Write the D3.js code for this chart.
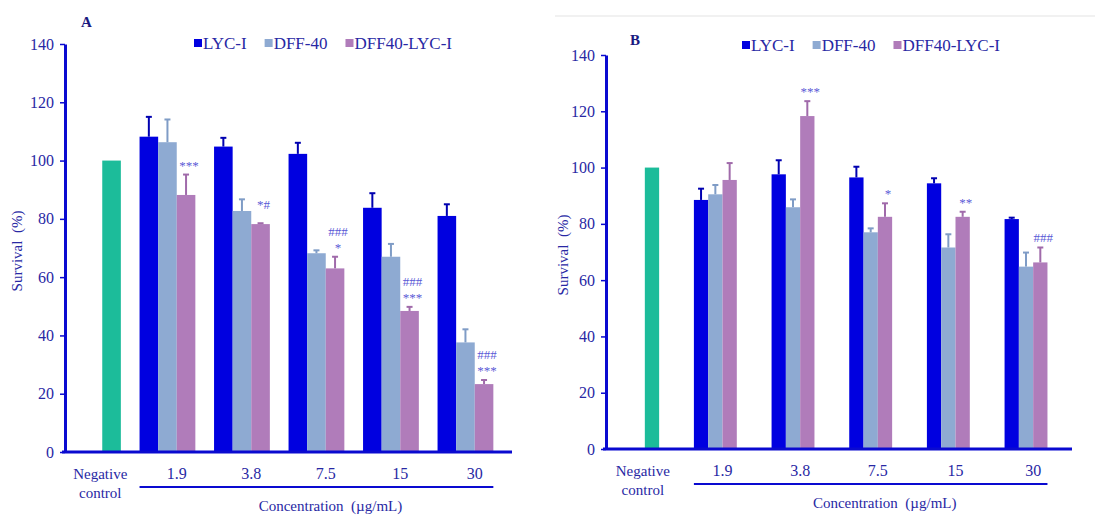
<!DOCTYPE html>
<html>
<head>
  <meta charset="utf-8">
  <script src="https://d3js.org/d3.v7.min.js"></script>
</head>
<style>
  body { margin: 0; background: #fff; }
  text { font-family: "Liberation Serif", "Times New Roman", serif; }
</style>
<body>
  <svg id="chart"></svg>
</body>
<script>
  var w = 1095;
  var h = 516;

  // data
  var categories = ["Negative control", "1.9", "3.8", "7.5", "15", "30"];
  var concentrations = ["1.9", "3.8", "7.5", "15", "30"];
  var seriesNames = ["LYC-I", "DFF-40", "DFF40-LYC-I"];
  var yTicks = [0, 20, 40, 60, 80, 100, 120, 140];

  var controlA = 100;
  var lycA = [108.2, 104.8, 102.3, 83.8, 81.0];
  var lycErrA = [6.8, 3.0, 3.8, 5.0, 4.0];
  var dffA = [106.3, 82.7, 68.2, 67.0, 37.6];
  var dffErrA = [7.8, 4.0, 1.0, 4.4, 4.5];
  var comboA = [88.2, 78.2, 63.0, 48.4, 23.3];
  var comboErrA = [7.0, 0.3, 4.0, 1.4, 1.4];
  var sigA = [["***"], ["*#"], ["###", "*"], ["###", "***"], ["###", "***"]];

  var controlB = 100;
  var lycB = [88.5, 97.6, 96.5, 94.4, 81.7];
  var lycErrB = [4.0, 5.0, 3.8, 1.8, 0.5];
  var dffB = [90.5, 85.9, 77.0, 71.6, 64.8];
  var dffErrB = [3.3, 2.8, 1.4, 4.7, 5.0];
  var comboB = [95.6, 118.3, 82.5, 82.5, 66.3];
  var comboErrB = [6.0, 5.3, 4.8, 1.8, 5.3];
  var sigB = [[], ["***"], ["*"], ["**"], ["###"]];

  var colors = {"LYC-I": "#0000e0", "DFF-40": "#8eaad2", "DFF40-LYC-I": "#b07cba"};
  var errColors = {"LYC-I": "#0000b0", "DFF-40": "#7f9cc6", "DFF40-LYC-I": "#a06aaa"};
  var controlColor = "#1cbc9a";
  var axisColor = "#0a0ad0";
  var textColor = "#2828a4";
  var sigColor = "#5a5ad6";

  var svg = d3.select("svg#chart")
      .attr("width", w)
      .attr("height", h);

  // faint rule over panel B like in the scan
  svg.append("line")
      .attr("x1", 555).attr("x2", w).attr("y1", 16).attr("y2", 16)
      .style("stroke", "#ececec").style("stroke-width", 1.5);

  function drawPanel(p) {
    var g = svg.append("g");

    var y = d3.scaleLinear().domain([0, 140]).range([p.yBottom, p.yTop]);
    var x0 = d3.scaleBand().domain(categories).range(p.xRange).paddingInner(0).paddingOuter(0);
    var x1 = d3.scaleBand().domain(seriesNames.concat(["_"])).range([-2 * p.bw, 2 * p.bw]);
    var cx = function(c){ return x0(c) + x0.bandwidth()/2; };

    var rows = [];
    concentrations.forEach(function(c, i){
      rows.push({cat: c, s: "LYC-I", v: p.lyc[i], e: p.lycErr[i]});
      rows.push({cat: c, s: "DFF-40", v: p.dff[i], e: p.dffErr[i]});
      rows.push({cat: c, s: "DFF40-LYC-I", v: p.combo[i], e: p.comboErr[i]});
    });

    // control bar
    g.append("rect")
        .attr("x", cx(categories[0]) + x1("DFF40-LYC-I"))
        .attr("y", y(p.control))
        .attr("width", x1.bandwidth())
        .attr("height", y(0) - y(p.control))
        .style("fill", controlColor);

    g.selectAll("rect.bar")
        .data(rows)
        .enter().append("rect")
        .attr("class", "bar")
        .attr("x", function(d){ return cx(d.cat) + x1(d.s); })
        .attr("y", function(d){ return y(d.v); })
        .attr("width", x1.bandwidth())
        .attr("height", function(d){ return y(0) - y(d.v); })
        .style("fill", function(d){ return colors[d.s]; });

    // error bars (upper half only)
    var eb = g.selectAll("g.err")
        .data(rows)
        .enter().append("g")
        .attr("class", "err")
        .style("stroke", function(d){ return errColors[d.s]; })
        .style("stroke-width", 2);
    eb.append("line")
        .attr("x1", function(d){ return cx(d.cat) + x1(d.s) + x1.bandwidth()/2; })
        .attr("x2", function(d){ return cx(d.cat) + x1(d.s) + x1.bandwidth()/2; })
        .attr("y1", function(d){ return y(d.v); })
        .attr("y2", function(d){ return y(d.v + d.e); });
    eb.append("line")
        .attr("x1", function(d){ return cx(d.cat) + x1(d.s) + x1.bandwidth()/2 - 3; })
        .attr("x2", function(d){ return cx(d.cat) + x1(d.s) + x1.bandwidth()/2 + 3; })
        .attr("y1", function(d){ return y(d.v + d.e); })
        .attr("y2", function(d){ return y(d.v + d.e); });

    // significance marks over the combination bar
    concentrations.forEach(function(c, i){
      var top = y(p.combo[i] + p.comboErr[i]) - 5;
      if (p.sig[i].length == 1 && p.sig[i][0].indexOf("#") > 0) top -= 9; // the "*#" sits higher
      var marks = p.sig[i].slice().reverse();
      marks.forEach(function(m, j){
        g.append("text")
            .attr("x", cx(c) + x1("DFF40-LYC-I") + x1.bandwidth()/2 + 3)
            .attr("y", top - j * 16)
            .attr("text-anchor", "middle")
            .style("font-size", "13px")
            .style("fill", sigColor)
            .text(m);
      });
    });

    // y axis
    var yAxis = d3.axisLeft(y).tickValues(yTicks).tickSize(5).tickPadding(6).tickSizeOuter(0);
    var ya = g.append("g")
        .attr("transform", "translate(" + p.xRange[0] + ",0)")
        .call(yAxis);
    ya.select(".domain").style("stroke", axisColor).style("stroke-width", 3);
    ya.selectAll(".tick line").style("stroke", axisColor).style("stroke-width", 1.5);
    ya.selectAll(".tick text")
        .style("font-family", "Liberation Serif, serif")
        .style("font-size", "16px")
        .style("fill", textColor);

    // x axis line
    g.append("line")
        .attr("x1", p.xRange[0] - 3).attr("x2", p.xAxisEnd)
        .attr("y1", y(0)).attr("y2", y(0))
        .style("stroke", axisColor).style("stroke-width", 3);

    // category labels
    g.append("text")
        .attr("x", cx(categories[0]) - 2).attr("y", y(0) + 27)
        .attr("text-anchor", "middle")
        .style("font-size", "15px").style("fill", textColor)
        .text("Negative");
    g.append("text")
        .attr("x", cx(categories[0]) - 2).attr("y", y(0) + 46)
        .attr("text-anchor", "middle")
        .style("font-size", "15px").style("fill", textColor)
        .text("control");
    g.selectAll("text.conc")
        .data(concentrations)
        .enter().append("text")
        .attr("class", "conc")
        .attr("x", function(d){ return cx(d); })
        .attr("y", y(0) + 27)
        .attr("text-anchor", "middle")
        .style("font-size", "16px").style("fill", textColor)
        .text(function(d){ return d; });

    // bracket under concentrations
    var bx1 = cx(concentrations[0]) + x1("LYC-I");
    var bx2 = cx(concentrations[concentrations.length - 1]) + x1("DFF40-LYC-I") + x1.bandwidth();
    g.append("line")
        .attr("x1", bx1).attr("x2", bx2)
        .attr("y1", y(0) + 35).attr("y2", y(0) + 35)
        .style("stroke", axisColor).style("stroke-width", 2);
    g.append("text")
        .attr("x", (bx1 + bx2)/2 + 14).attr("y", y(0) + 59)
        .attr("text-anchor", "middle")
        .style("font-size", "15px").style("fill", textColor)
        .style("white-space", "pre")
        .text("Concentration  (\u00b5g/mL)");

    // y title
    g.append("text")
        .attr("transform", "translate(" + p.yTitleX + "," + ((y(0) + y(140))/2 + 3) + ") rotate(-90)")
        .attr("text-anchor", "middle")
        .style("font-size", "15px").style("fill", textColor)
        .style("white-space", "pre")
        .text("Survival  (%)");

    // panel letter
    g.append("text")
        .attr("x", p.letterX).attr("y", p.letterY)
        .style("font-size", "15px").style("font-weight", "bold").style("fill", "#1a1a80")
        .text(p.letter);

    // legend
    var lg = g.append("g").attr("transform", "translate(" + p.legendX + "," + p.legendY + ")");
    var lx = 0;
    seriesNames.forEach(function(s){
      var item = lg.append("g").attr("transform", "translate(" + lx + ",0)");
      item.append("rect").attr("x", 0).attr("y", -10).attr("width", 8).attr("height", 8)
          .style("fill", colors[s]);
      var t = item.append("text").attr("x", 9).attr("y", 0)
          .style("font-size", "17px").style("fill", textColor)
          .text(s);
      lx += 9 + t.node().getComputedTextLength() + p.legendGap;
    });
  }

  drawPanel({
    letter: "A", letterX: 81, letterY: 27,
    yTop: 44, yBottom: 452, xRange: [65, 512], xAxisEnd: 512, bw: 18.6,
    yTitleX: 22, legendX: 194, legendY: 49, legendGap: 18,
    control: controlA, lyc: lycA, lycErr: lycErrA, dff: dffA, dffErr: dffErrA,
    combo: comboA, comboErr: comboErrA, sig: sigA
  });

  drawPanel({
    letter: "B", letterX: 630, letterY: 45,
    yTop: 55, yBottom: 449, xRange: [606, 1072], xAxisEnd: 1072, bw: 14.3,
    yTitleX: 568, legendX: 742, legendY: 51, legendGap: 18,
    control: controlB, lyc: lycB, lycErr: lycErrB, dff: dffB, dffErr: dffErrB,
    combo: comboB, comboErr: comboErrB, sig: sigB
  });
</script>
</html>
